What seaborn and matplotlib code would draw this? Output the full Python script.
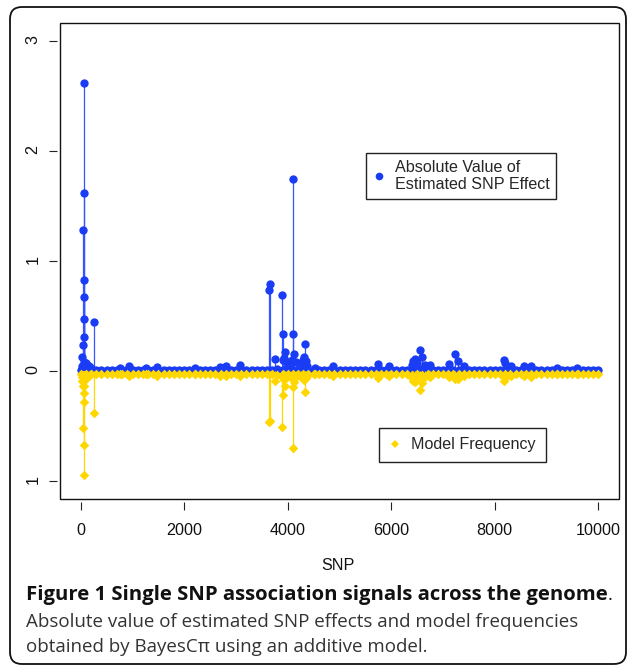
import numpy as np
import pandas as pd
import matplotlib
matplotlib.use("Agg")
import matplotlib.pyplot as plt
import seaborn as sns
from matplotlib.lines import Line2D
from matplotlib.patches import FancyBboxPatch, Rectangle

# ---------------- data ----------------
# notable SNPs: position, |estimated effect|, model frequency
peak_snp = [20, 33, 44, 50, 55, 58, 60, 62, 64, 66, 70, 80, 100, 130, 160, 200, 256,
            751, 931, 1252, 1477, 2215, 2697, 2813, 3070,
            3647, 3660, 3745, 3886, 3900, 3918, 3935, 3950, 3980, 4020, 4090, 4100,
            4110, 4120, 4150, 4250, 4300, 4320, 4335, 4350, 4380,
            4528, 4881, 5748, 5960, 6400, 6423, 6455, 6500, 6551, 6603, 6650, 6757,
            7116, 7232, 7290, 7405, 8170, 8200, 8318, 8555, 8703, 9200, 9580]
peak_effect = [0.05, 0.13, 1.28, 0.24, 0.31, 0.47, 0.67, 0.83, 2.62, 1.62, 0.08, 0.06, 0.07, 0.06, 0.05, 0.03, 0.45,
               0.03, 0.05, 0.03, 0.04, 0.03, 0.04, 0.045, 0.055,
               0.74, 0.79, 0.11, 0.69, 0.10, 0.34, 0.12, 0.17, 0.08, 0.06, 0.10, 1.74,
               0.34, 0.16, 0.08, 0.06, 0.10, 0.13, 0.25, 0.09, 0.05,
               0.03, 0.05, 0.063, 0.05, 0.06, 0.094, 0.11, 0.07, 0.19, 0.13, 0.06, 0.055,
               0.063, 0.16, 0.088, 0.05, 0.10, 0.07, 0.05, 0.05, 0.05, 0.03, 0.03]
peak_freq = [0.05, 0.09, 0.52, 0.13, 0.09, 0.13, 0.20, 0.28, 0.94, 0.67, 0.06, 0.05, 0.05, 0.05, 0.04, 0.03, 0.38,
             0.03, 0.04, 0.03, 0.04, 0.03, 0.04, 0.04, 0.045,
             0.46, 0.45, 0.09, 0.51, 0.06, 0.22, 0.08, 0.13, 0.05, 0.04, 0.06, 0.70,
             0.14, 0.10, 0.05, 0.04, 0.07, 0.08, 0.19, 0.06, 0.04,
             0.03, 0.045, 0.063, 0.045, 0.06, 0.088, 0.097, 0.06, 0.17, 0.11, 0.05, 0.05,
             0.05, 0.075, 0.07, 0.04, 0.088, 0.06, 0.04, 0.04, 0.05, 0.03, 0.03]

# background SNPs (the dense band around zero)
bg_snp = list(range(1, 10000, 100)) + [10000]
bg_effect = [0.012, 0.015, 0.010, 0.012, 0.010, 0.011, 0.012, 0.010, 0.013, 0.011,
             0.010, 0.012, 0.011, 0.010, 0.012, 0.010, 0.011, 0.012, 0.010, 0.011,
             0.012, 0.010, 0.011, 0.013, 0.010, 0.012, 0.011, 0.012, 0.014, 0.011,
             0.012, 0.011, 0.010, 0.012, 0.011, 0.013, 0.015, 0.014, 0.016, 0.015,
             0.015, 0.014, 0.015, 0.013, 0.012, 0.011, 0.012, 0.010, 0.012, 0.011,
             0.012, 0.011, 0.012, 0.011, 0.014, 0.013, 0.012, 0.014, 0.012, 0.013,
             0.011, 0.012, 0.013, 0.012, 0.016, 0.015, 0.016, 0.013, 0.012, 0.011,
             0.012, 0.013, 0.014, 0.015, 0.013, 0.012, 0.011, 0.012, 0.010, 0.011,
             0.012, 0.015, 0.014, 0.013, 0.012, 0.011, 0.013, 0.012, 0.011, 0.010,
             0.011, 0.012, 0.010, 0.011, 0.012, 0.010, 0.011, 0.012, 0.010, 0.011, 0.012]
bg_freq = [0.025, 0.030, 0.022, 0.024, 0.022, 0.023, 0.025, 0.022, 0.026, 0.024,
           0.022, 0.025, 0.023, 0.022, 0.025, 0.022, 0.024, 0.025, 0.022, 0.023,
           0.025, 0.022, 0.024, 0.026, 0.022, 0.025, 0.023, 0.025, 0.028, 0.024,
           0.025, 0.023, 0.022, 0.025, 0.024, 0.026, 0.030, 0.028, 0.032, 0.030,
           0.030, 0.028, 0.030, 0.026, 0.025, 0.023, 0.025, 0.022, 0.025, 0.023,
           0.025, 0.023, 0.025, 0.024, 0.028, 0.026, 0.025, 0.028, 0.025, 0.026,
           0.023, 0.025, 0.026, 0.025, 0.032, 0.030, 0.032, 0.026, 0.025, 0.023,
           0.025, 0.026, 0.028, 0.030, 0.026, 0.025, 0.023, 0.025, 0.022, 0.023,
           0.025, 0.030, 0.028, 0.026, 0.025, 0.023, 0.026, 0.025, 0.023, 0.022,
           0.023, 0.025, 0.022, 0.023, 0.025, 0.022, 0.023, 0.025, 0.022, 0.023, 0.025]

x_ticks = [0, 2000, 4000, 6000, 8000, 10000]
y_ticks = [-1, 0, 1, 2, 3]
y_tick_labels = ["1", "0", "1", "2", "3"]

legend_effect = "Absolute Value of\nEstimated SNP Effect"
legend_freq = "Model Frequency"
x_label = "SNP"
caption_bold = "Figure 1 Single SNP association signals across the genome"
caption_lines = ["Absolute value of estimated SNP effects and model frequencies",
                 "obtained by BayesC\u03c0 using an additive model."]

# ---------------- build ----------------
df = pd.DataFrame({
    "snp": bg_snp + peak_snp,
    "effect": bg_effect + peak_effect,
    "freq": bg_freq + peak_freq,
})
df["neg_freq"] = -df["freq"]

BLUE = "#1a3cf5"
BLUE_LINE = "#3355ff"
GOLD = "#ffd700"

sns.set_style("white")
plt.rcParams["font.family"] = ["Liberation Sans", "DejaVu Sans"]

W, H = 627, 666
fig = plt.figure(figsize=(W / 100, H / 100), dpi=100)

# outer rounded border (pixel coordinates)
bgax = fig.add_axes([0, 0, 1, 1])
bgax.set_xlim(0, W)
bgax.set_ylim(H, 0)
bgax.axis("off")
bgax.add_patch(FancyBboxPatch((10, 7), 616, 657,
                              boxstyle="round,pad=0,rounding_size=12",
                              fill=False, ec="#111111", lw=1.3))

ax = fig.add_axes([60 / W, 1 - 499 / H, 559 / W, 476 / H])
ax.patch.set_alpha(0)

ax.vlines(df["snp"], 0, df["effect"], color=BLUE_LINE, lw=0.9, zorder=2)
sns.scatterplot(data=df, x="snp", y="effect", color=BLUE, marker="o", s=36,
                linewidth=0, ax=ax, zorder=3, legend=False)
ax.vlines(df["snp"], 0, df["neg_freq"], color=GOLD, lw=0.9, zorder=4)
sns.scatterplot(data=df, x="snp", y="neg_freq", color=GOLD, marker="D", s=24,
                linewidth=0, ax=ax, zorder=5, legend=False)

ax.set_xlim(-400, 10400)
ax.set_ylim(-1.16, 3.16)
ax.set_xticks(x_ticks)
ax.set_xticklabels([str(t) for t in x_ticks])
ax.set_yticks(y_ticks)
ax.set_yticklabels(y_tick_labels)
ax.set_xlabel("")
ax.set_ylabel("")
ax.tick_params(axis="both", direction="out", length=6, width=0.8, color="#222222",
               labelsize=11.6, labelcolor="#111111", bottom=True, left=True)
ax.tick_params(axis="x", pad=9)
ax.tick_params(axis="y", pad=6, labelrotation=90)
for lab in ax.get_yticklabels():
    lab.set_va("center")
for side in ["left", "bottom"]:
    ax.spines[side].set_position(("outward", 2))
    ax.spines[side].set_color("none")
for side in ["top", "right"]:
    ax.spines[side].set_visible(False)
ax.add_patch(Rectangle((0, 0), 1, 1, transform=ax.transAxes, fill=False,
                       ec="#111111", lw=1.0, clip_on=False, zorder=10))

# legends
h1 = Line2D([], [], marker="o", color=BLUE, ls="none", markersize=5.5, markeredgewidth=0)
h2 = Line2D([], [], marker="D", color=GOLD, ls="none", markersize=4, markeredgewidth=0)
leg1 = ax.legend([h1], [legend_effect], loc="center", bbox_to_anchor=(461 / W, 1 - 176 / H),
                 bbox_transform=fig.transFigure, fancybox=False, edgecolor="#222222",
                 framealpha=1, fontsize=11.6, handlelength=0.8, handletextpad=0.6,
                 borderpad=0.4, labelspacing=0.2)
leg1.get_frame().set_linewidth(1.0)
ax.add_artist(leg1)
leg2 = ax.legend([h2], [legend_freq], loc="center", bbox_to_anchor=(462.5 / W, 1 - 445 / H),
                 bbox_transform=fig.transFigure, fancybox=False, edgecolor="#222222",
                 framealpha=1, fontsize=11.6, handlelength=0.8, handletextpad=0.6,
                 borderpad=0.6)
leg2.get_frame().set_linewidth(1.0)

fig.text(338 / W, 1 - 565 / H, x_label, ha="center", va="center", fontsize=11.6,
         color="#111111")

# caption
cap_family = ["Open Sans", "DejaVu Sans"]
renderer = fig.canvas.get_renderer()
probe = fig.text(0, 0, caption_lines[0], fontsize=12, family=cap_family)
w = probe.get_window_extent(renderer).width
probe.remove()
cap_size = 12 * 549 / w
probe = fig.text(0, 0, caption_bold, fontsize=12, family=cap_family, weight="bold")
wb = probe.get_window_extent(renderer).width
probe.remove()
cap_bold_size = 12 * 581 / wb

x0 = 26 / W
t1 = fig.text(x0, 1 - 595 / H, caption_bold, fontsize=cap_bold_size, family=cap_family,
              weight="bold", va="center", color="#111111")
bb = t1.get_window_extent(renderer)
fig.text(bb.x1 / W, 1 - 595 / H, ".", fontsize=cap_size, family=cap_family,
         va="center", color="#111111")
for i, line in enumerate(caption_lines):
    fig.text(x0, 1 - (622 + 25.5 * i) / H, line, fontsize=cap_size, family=cap_family,
             va="center", color="#333333")

fig.savefig("out.png", dpi=100)
